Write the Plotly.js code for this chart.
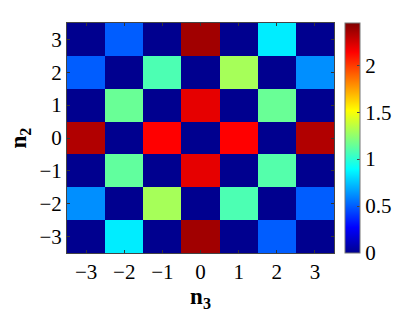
<!DOCTYPE html>
<html>
<head>
<meta charset="utf-8">
<script src="https://cdn.plot.ly/plotly-3.0.1.min.js"></script>
<style>html,body{margin:0;padding:0;background:#fff;}#chart{width:411px;height:312px;}</style>
</head>
<body>
<div id="chart"></div>
<script>
var n3 = [-3, -2, -1, 0, 1, 2, 3];
var n2 = [3, 2, 1, 0, -1, -2, -3];
var row_p3 = [0, 0.50, 0, 2.37, 0, 0.85, 0];
var row_p2 = [0.50, 0, 1.08, 0, 1.30, 0, 0.62];
var row_p1 = [0, 1.15, 0, 2.20, 0, 1.15, 0];
var row_0  = [2.33, 0, 2.14, 0, 2.14, 0, 2.33];
var row_m1 = [0, 1.13, 0, 2.20, 0, 1.10, 0];
var row_m2 = [0.62, 0, 1.30, 0, 1.08, 0, 0.50];
var row_m3 = [0, 0.85, 0, 2.37, 0, 0.50, 0];
var z = [row_p3, row_p2, row_p1, row_0, row_m1, row_m2, row_m3];
var cbTicks = [0, 0.5, 1, 1.5, 2];
var cbLabels = ['0', '0.5', '1', '1.5', '2'];

var jet = [
  [0, 'rgb(0,0,143)'],
  [0.111, 'rgb(0,0,255)'],
  [0.365, 'rgb(0,255,255)'],
  [0.619, 'rgb(255,255,0)'],
  [0.873, 'rgb(255,0,0)'],
  [1, 'rgb(128,0,0)']
];
var serif = 'Liberation Serif';

var trace = {
  type: 'heatmap',
  x: n3, y: n2, z: z,
  zmin: 0, zmax: 2.45,
  colorscale: jet,
  colorbar: {
    x: 1.041, xanchor: 'left', xref: 'paper',
    y: 0.5, yanchor: 'middle', len: 1, lenmode: 'fraction',
    thickness: 15, thicknessmode: 'pixels',
    outlinewidth: 1, outlinecolor: '#777',
    tickvals: cbTicks, ticktext: cbLabels,
    ticks: 'inside', ticklen: 3, tickcolor: '#444',
    tickfont: {family: serif, size: 21, color: '#000'},
    xpad: 0, ypad: 0
  }
};

var axisCommon = {
  ticks: 'inside', ticklen: 3, tickcolor: '#333',
  showline: true, linecolor: '#444', linewidth: 1, mirror: 'ticks',
  showgrid: false, zeroline: false,
  tickfont: {family: serif, size: 21, color: '#000'},
  tickvals: [-3, -2, -1, 0, 1, 2, 3]
};

var layout = {
  width: 411, height: 312,
  margin: {l: 67, r: 77, t: 23, b: 59},
  paper_bgcolor: '#fff', plot_bgcolor: '#fff',
  font: {family: serif},
  xaxis: Object.assign({}, axisCommon, {
    range: [-3.5, 3.5],
    title: {text: '<b>n<sub>3</sub></b>', font: {family: serif, size: 23, color: '#000'}, standoff: 0}
  }),
  yaxis: Object.assign({}, axisCommon, {
    range: [-3.5, 3.5],
    title: {text: '<b>n<sub>2</sub></b>', font: {family: serif, size: 23, color: '#000'}, standoff: 6}
  })
};

Plotly.newPlot('chart', [trace], layout, {displayModeBar: false, staticPlot: true});
</script>
</body>
</html>
